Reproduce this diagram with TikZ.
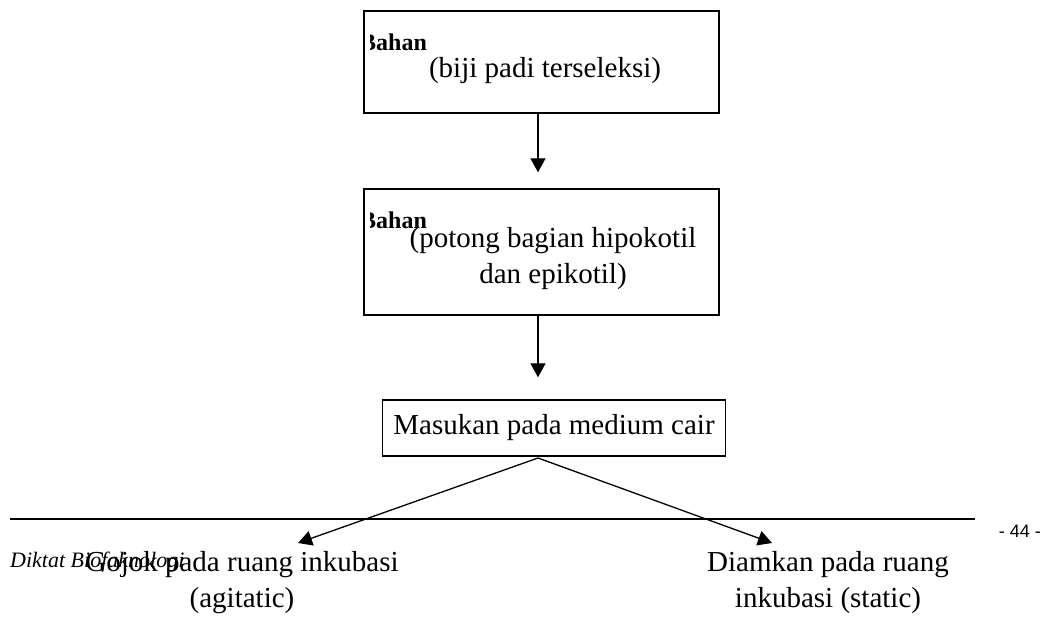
\documentclass[tikz,border=0pt]{standalone}
\usepackage{fontspec}
\setmainfont{Liberation Serif}
\setsansfont{Liberation Sans}
\usetikzlibrary{arrows.meta}
\begin{document}
\begin{tikzpicture}[x=1pt,y=-1pt,
  stepbox/.style={draw, line width=1.4pt, inner sep=0pt},
  arr/.style={line width=1.3pt, -{Triangle[length=14pt,width=15pt]}},
  txt/.style={font=\fontsize{29}{36}\selectfont, inner sep=0pt, align=center},
  ttl/.style={font=\fontsize{24}{30}\selectfont\bfseries, inner sep=0pt, anchor=base west}
]
\useasboundingbox (0,0) rectangle (1043,619);

% first step: seed material
\node[stepbox, minimum width=355pt, minimum height=102pt] (b1) at (541.5,62) {};
\begin{scope}
  \clip (370,11) rectangle (719,113);
  \node[ttl] (t1) at (360,50) {Bahan};
\end{scope}
\node[txt] (s1) at (545,70.5) {(biji padi terseleksi)};

% second step: cutting
\node[stepbox, minimum width=355pt, minimum height=126pt] (b2) at (541.5,252) {};
\begin{scope}
  \clip (370,189) rectangle (719,315);
  \node[ttl] (t2) at (360,228) {Bahan};
\end{scope}
\node[txt] (s2) at (553,259) {(potong bagian hipokotil\\dan epikotil)};

% third step: liquid medium
\node[stepbox, txt, minimum width=343pt, minimum height=56pt] (b3) at (554,428) {Masukan pada medium cair};

% connectors
\draw[arr, shorten >=16pt] (b1.south -| 538,0) -- (b2.north -| 538,0);
\draw[arr, shorten >=22pt] (b2.south -| 538,0) -- (b3.north -| 538,0);

\coordinate (fork) at (538,458);
\coordinate (tipL) at (298,543);
\coordinate (tipR) at (772,543);
\draw[arr] (fork) -- (tipL);
\draw[arr] (fork) -- (tipR);

% page footer
\coordinate (ruleL) at (10,519);
\coordinate (ruleR) at (975,519);
\draw[line width=1.3pt] (ruleL) -- (ruleR);
\node[font=\sffamily\fontsize{18}{22}\selectfont, inner sep=0pt, anchor=east] (pg) at (1041,531) {- 44 -};
\node[font=\fontsize{22}{26}\selectfont\itshape, inner sep=0pt, anchor=base west] (ft) at (10,567) {Diktat Biofaknologi};

% two outcomes
\node[txt] (o1) at (242,583) {Gojok pada ruang inkubasi\\(agitatic)};
\node[txt] (o2) at (828,583) {Diamkan pada ruang\\inkubasi (static)};
\end{tikzpicture}
\end{document}
